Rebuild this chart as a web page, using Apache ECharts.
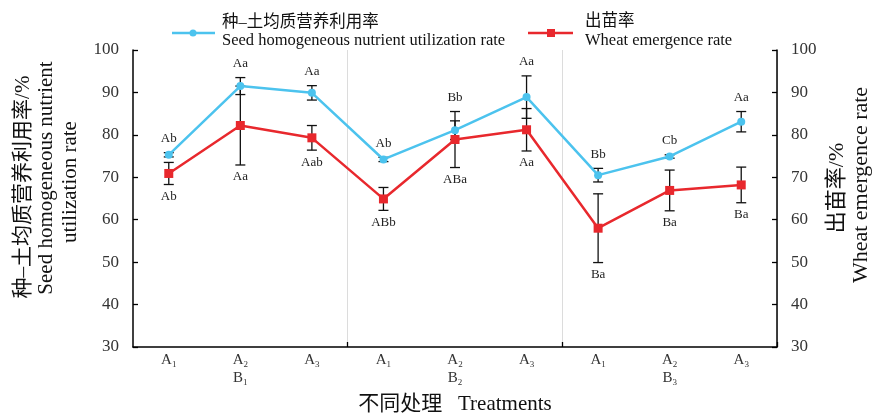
<!DOCTYPE html>
<html>
<head>
<meta charset="utf-8">
<script src="https://cdn.jsdelivr.net/npm/echarts@6/dist/echarts.min.js"></script>
<style>html,body{margin:0;padding:0;background:#fff;}#c{width:872px;height:416px;}</style>
</head>
<body>
<div id="c"></div>
<script>
// ---- data ----
var treatments = ['A1', 'A2', 'A3', 'A1', 'A2', 'A3', 'A1', 'A2', 'A3'];
var groups = ['B1', 'B2', 'B3'];
var nutrientRate = [75.3, 91.5, 89.9, 74.2, 81.1, 88.9, 70.5, 74.9, 83.1];
var nutrientErr = [0.5, 2.0, 1.7, 0.5, 2.2, 5.0, 1.6, 0.4, 2.4];
var emergenceRate = [70.9, 82.2, 79.3, 64.9, 78.9, 81.2, 58.0, 66.9, 68.2];
var emergenceErr = [2.6, 9.3, 2.9, 2.7, 6.6, 5.0, 8.1, 4.8, 4.2];
var nutrientLetters = ['Ab', 'Aa', 'Aa', 'Ab', 'Bb', 'Aa', 'Bb', 'Cb', 'Aa'];
var emergenceLetters = ['Ab', 'Aa', 'Aab', 'ABb', 'ABa', 'Aa', 'Ba', 'Ba', 'Ba'];
var yTicks = [30, 100, 10]; // min, max, interval

var SERIF = "'Liberation Serif','Noto Sans CJK SC',serif";
var BLUE = '#4cc3ee';
var RED = '#e8282d';

var chart = echarts.init(document.getElementById('c'));

function sub(str) {
  return '{a|' + str.charAt(0) + '}{s|' + str.slice(1) + '}';
}

function errItem(vals, errs, isTop) {
  return function (params, api) {
    var i = params.dataIndex;
    var v = vals[i], e = errs[i];
    var top = api.coord([i, v + e]);
    var bot = api.coord([i, v - e]);
    var hw = 5;
    var st = { stroke: '#111', lineWidth: 1.3 };
    var children = [
      { type: 'line', shape: { x1: top[0], y1: top[1], x2: bot[0], y2: bot[1] }, style: st },
      { type: 'line', shape: { x1: top[0] - hw, y1: top[1], x2: top[0] + hw, y2: top[1] }, style: st },
      { type: 'line', shape: { x1: bot[0] - hw, y1: bot[1], x2: bot[0] + hw, y2: bot[1] }, style: st }
    ];
    var ty;
    if (isTop) {
      var otherTop = api.coord([i, emergenceRate[i] + emergenceErr[i]])[1];
      ty = Math.min(top[1], otherTop) - 14;
      children.push({ type: 'text', x: top[0], y: ty, style: { text: nutrientLetters[i], font: '13px ' + SERIF, fill: '#222', textAlign: 'center', textVerticalAlign: 'middle' } });
    } else {
      ty = bot[1] + 12;
      children.push({ type: 'text', x: bot[0], y: ty, style: { text: emergenceLetters[i], font: '13px ' + SERIF, fill: '#222', textAlign: 'center', textVerticalAlign: 'middle' } });
    }
    return { type: 'group', children: children };
  };
}

var idxData = nutrientRate.map(function (v, i) { return [i, v]; });
var idxData2 = emergenceRate.map(function (v, i) { return [i, v]; });

function yAxis(pos) {
  return {
    type: 'value', position: pos, min: yTicks[0], max: yTicks[1], interval: yTicks[2],
    axisLine: { show: true, lineStyle: { color: '#000', width: 1.5 } },
    axisTick: { show: true, inside: true, length: 5, lineStyle: { color: '#000', width: 1.3 } },
    axisLabel: { fontSize: 17, fontFamily: SERIF, color: '#333', margin: 14 },
    splitLine: { show: false }
  };
}

function vtext(x, y, text, size) {
  return { type: 'text', x: x, y: y, rotation: Math.PI / 2,
    style: { text: text, font: size + 'px ' + SERIF, fill: '#111', textAlign: 'center', textVerticalAlign: 'middle' } };
}

var option = {
  animation: false,
  backgroundColor: '#fff',
  grid: { left: 133, right: 95, top: 50, bottom: 69, containLabel: false, outerBoundsMode: 'none' },
  xAxis: {
    type: 'category', data: treatments, boundaryGap: true,
    axisLine: { lineStyle: { color: '#000', width: 1.5 } },
    axisTick: { show: true, inside: true, length: 5, lineStyle: { color: '#000', width: 1.3 },
      interval: function (idx) { return idx === 3 || idx === 6; } },
    splitLine: { show: true, lineStyle: { color: '#dcdcdc', width: 1 },
      interval: function (idx) { return idx === 3 || idx === 6; } },
    axisLabel: {
      margin: 4, interval: 0, color: '#333', fontFamily: SERIF,
      formatter: function (val, idx) {
        var s = sub(val);
        if (idx % 3 === 1) s += '\n' + sub(groups[Math.floor(idx / 3)]);
        return s;
      },
      rich: {
        a: { fontSize: 15, fontFamily: SERIF, color: '#333', lineHeight: 18 },
        s: { fontSize: 9, fontFamily: SERIF, color: '#333', lineHeight: 18, verticalAlign: 'bottom' }
      }
    },
    name: '不同处理   Treatments', nameLocation: 'middle', nameGap: 47,
    nameTextStyle: { fontSize: 21, fontFamily: SERIF, color: '#111' }
  },
  yAxis: [yAxis('left'), yAxis('right')],
  series: [
    { type: 'custom', yAxisIndex: 0, renderItem: errItem(nutrientRate, nutrientErr, true), data: idxData, encode: { x: 0, y: 1 }, z: 1 },
    { type: 'custom', yAxisIndex: 1, renderItem: errItem(emergenceRate, emergenceErr, false), data: idxData2, encode: { x: 0, y: 1 }, z: 1 },
    { name: '种–土均质营养利用率', type: 'line', yAxisIndex: 0, data: nutrientRate, symbol: 'circle', symbolSize: 8,
      itemStyle: { color: BLUE }, lineStyle: { color: BLUE, width: 2.5 }, z: 3 },
    { name: '出苗率', type: 'line', yAxisIndex: 1, data: emergenceRate, symbol: 'rect', symbolSize: 9,
      itemStyle: { color: RED }, lineStyle: { color: RED, width: 2.5 }, z: 3 }
  ],
  graphic: [
    // legend
    { type: 'line', shape: { x1: 172, y1: 33, x2: 215, y2: 33 }, style: { stroke: BLUE, lineWidth: 2.5 } },
    { type: 'circle', shape: { cx: 193, cy: 33, r: 3.5 }, style: { fill: BLUE } },
    { type: 'text', x: 222, y: 23, style: { text: '种–土均质营养利用率', font: '16.5px ' + SERIF, fill: '#111', textVerticalAlign: 'middle' } },
    { type: 'text', x: 222, y: 41, style: { text: 'Seed homogeneous nutrient utilization rate', font: '16.5px ' + SERIF, fill: '#111', textVerticalAlign: 'middle' } },
    { type: 'line', shape: { x1: 528, y1: 33, x2: 573, y2: 33 }, style: { stroke: RED, lineWidth: 2.5 } },
    { type: 'rect', shape: { x: 547, y: 29, width: 8, height: 8 }, style: { fill: RED } },
    { type: 'text', x: 585, y: 22, style: { text: '出苗率', font: '16.5px ' + SERIF, fill: '#111', textVerticalAlign: 'middle' } },
    { type: 'text', x: 585, y: 41, style: { text: 'Wheat emergence rate', font: '16.5px ' + SERIF, fill: '#111', textVerticalAlign: 'middle' } },
    // axis names
    vtext(23, 187, '种–土均质营养利用率/%', 21),
    vtext(46, 178, 'Seed homogeneous nutrient', 21),
    vtext(70, 182, 'utilization rate', 21),
    vtext(837, 188, '出苗率/%', 22),
    vtext(861, 185, 'Wheat emergence rate', 22)
  ]
};
chart.setOption(option);
</script>
</body>
</html>
